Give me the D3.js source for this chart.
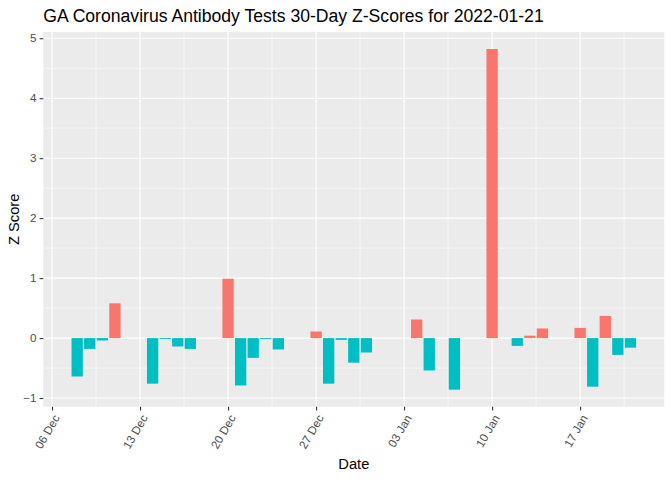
<!DOCTYPE html>
<html>
<head>
<meta charset="utf-8">
<script src="https://cdn.jsdelivr.net/npm/d3@7"></script>
<style>
  html, body { margin: 0; padding: 0; background: #fff; }
  svg { display: block; }
  text { font-family: "Liberation Sans", Arial, sans-serif; }
</style>
</head>
<body>
<div id="chart"></div>
<script>
// ---- data ----
const dates = [
  "2021-12-08","2021-12-09","2021-12-10","2021-12-11",
  "2021-12-14","2021-12-15","2021-12-16","2021-12-17",
  "2021-12-20","2021-12-21","2021-12-22","2021-12-23","2021-12-24",
  "2021-12-27","2021-12-28","2021-12-29","2021-12-30","2021-12-31",
  "2022-01-04","2022-01-05","2022-01-07",
  "2022-01-10",
  "2022-01-12","2022-01-13","2022-01-14",
  "2022-01-17","2022-01-18","2022-01-19","2022-01-20","2022-01-21"
];
const zScores = [
  -0.64, -0.18, -0.04, 0.58,
  -0.76, -0.015, -0.14, -0.18,
  0.99, -0.79, -0.33, -0.015, -0.19,
  0.11, -0.76, -0.03, -0.41, -0.24,
  0.31, -0.54, -0.86,
  4.82,
  -0.13, 0.04, 0.16,
  0.17, -0.81, 0.37, -0.28, -0.16
];
const xTickDates = ["2021-12-06","2021-12-13","2021-12-20","2021-12-27","2022-01-03","2022-01-10","2022-01-17"];
const xTickLabels = ["06 Dec","13 Dec","20 Dec","27 Dec","03 Jan","10 Jan","17 Jan"];
const yTicks = [-1, 0, 1, 2, 3, 4, 5];
const titleText = "GA Coronavirus Antibody Tests 30-Day Z-Scores for 2022-01-21";
const xTitle = "Date";
const yTitle = "Z Score";
const colorPos = "#F8766D", colorNeg = "#00BFC4";

// ---- layout ----
const W = 672, H = 480;
const panel = { left: 43.3, right: 664.3, top: 32, bottom: 406.7 };
const DAY = 86400000;
const parse = d3.utcParse("%Y-%m-%d");
const data = dates.map((d, i) => ({ date: parse(d), z: zScores[i] }));

const svg = d3.select("#chart").append("svg").attr("width", W).attr("height", H);

// x scale (ggplot: bar width 0.9 day, 5% expansion)
const dmin = d3.min(data, d => +d.date) - 0.45 * DAY;
const dmax = d3.max(data, d => +d.date) + 0.45 * DAY;
const xr = dmax - dmin;
const x = d3.scaleUtc()
  .domain([new Date(dmin - 0.05 * xr), new Date(dmax + 0.05 * xr)])
  .range([panel.left, panel.right]);

const ymin = Math.min(0, d3.min(zScores)), ymax = Math.max(0, d3.max(zScores));
const yr = ymax - ymin;
const y = d3.scaleLinear()
  .domain([ymin - 0.05 * yr, ymax + 0.05 * yr])
  .range([panel.bottom, panel.top]);

// panel background
svg.append("rect")
  .attr("x", panel.left).attr("y", panel.top)
  .attr("width", panel.right - panel.left).attr("height", panel.bottom - panel.top)
  .attr("fill", "#EBEBEB");

const grid = svg.append("g");
// minor grid
const tickDates = xTickDates.map(parse);
const minorX = [];
for (let i = -1; i < tickDates.length; i++) {
  const base = i < 0 ? +tickDates[0] - 7 * DAY : +tickDates[i];
  minorX.push(new Date(base + 3.5 * DAY));
}
const [d0, d1] = x.domain();
minorX.filter(d => d >= d0 && d <= d1).forEach(d => {
  grid.append("line").attr("x1", x(d)).attr("x2", x(d))
    .attr("y1", panel.top).attr("y2", panel.bottom)
    .attr("stroke", "#fff").attr("stroke-width", 0.55);
});
const [yd0, yd1] = y.domain();
for (let v = -1.5; v <= 5.5; v += 1) {
  if (v >= yd0 && v <= yd1) {
    grid.append("line").attr("x1", panel.left).attr("x2", panel.right)
      .attr("y1", y(v)).attr("y2", y(v))
      .attr("stroke", "#fff").attr("stroke-width", 0.55);
  }
}
// major grid
tickDates.forEach(d => {
  grid.append("line").attr("x1", x(d)).attr("x2", x(d))
    .attr("y1", panel.top).attr("y2", panel.bottom)
    .attr("stroke", "#fff").attr("stroke-width", 1.1);
});
yTicks.forEach(v => {
  grid.append("line").attr("x1", panel.left).attr("x2", panel.right)
    .attr("y1", y(v)).attr("y2", y(v))
    .attr("stroke", "#fff").attr("stroke-width", 1.1);
});

// bars
const bw = x(new Date(+d0 + 0.9 * DAY)) - x(d0);
svg.append("g").selectAll("rect").data(data).join("rect")
  .attr("x", d => x(d.date) - bw / 2)
  .attr("width", bw)
  .attr("y", d => y(Math.max(0, d.z)))
  .attr("height", d => Math.abs(y(d.z) - y(0)))
  .attr("fill", d => d.z > 0 ? colorPos : colorNeg);

// y axis
const yAxis = d3.axisLeft(y).tickValues(yTicks).tickSize(3.7).tickPadding(3).tickFormat(d3.format("d"));
const gy = svg.append("g").attr("transform", `translate(${panel.left},0)`).call(yAxis);
gy.select(".domain").remove();
gy.selectAll(".tick line").attr("stroke", "#333333").attr("stroke-width", 1.07);
gy.selectAll(".tick text").attr("fill", "#4D4D4D").style("font-size", "11.7px")
  .style("font-family", "Liberation Sans, Arial, sans-serif");

// x axis
const xAxis = d3.axisBottom(x).tickValues(tickDates).tickSize(3.7)
  .tickFormat((d, i) => xTickLabels[i]);
const gx = svg.append("g").attr("transform", `translate(0,${panel.bottom})`).call(xAxis);
gx.select(".domain").remove();
gx.selectAll(".tick line").attr("stroke", "#333333").attr("stroke-width", 1.07);
gx.selectAll(".tick text")
  .attr("fill", "#4D4D4D").style("font-size", "11.7px")
  .style("font-family", "Liberation Sans, Arial, sans-serif")
  .attr("text-anchor", "end")
  .attr("y", 0).attr("dy", "0.35em")
  .attr("transform", "translate(4,9) rotate(-60)");

// titles
svg.append("text").attr("x", panel.left).attr("y", 21.5)
  .attr("font-size", "17.6px").attr("fill", "#000").text(titleText);
svg.append("text").attr("x", (panel.left + panel.right) / 2).attr("y", 469)
  .attr("text-anchor", "middle").attr("font-size", "14.7px").attr("fill", "#000").text(xTitle);
svg.append("text")
  .attr("transform", `translate(18.5,${(panel.top + panel.bottom) / 2}) rotate(-90)`)
  .attr("text-anchor", "middle").attr("font-size", "14.7px").attr("fill", "#000").text(yTitle);
</script>
</body>
</html>
